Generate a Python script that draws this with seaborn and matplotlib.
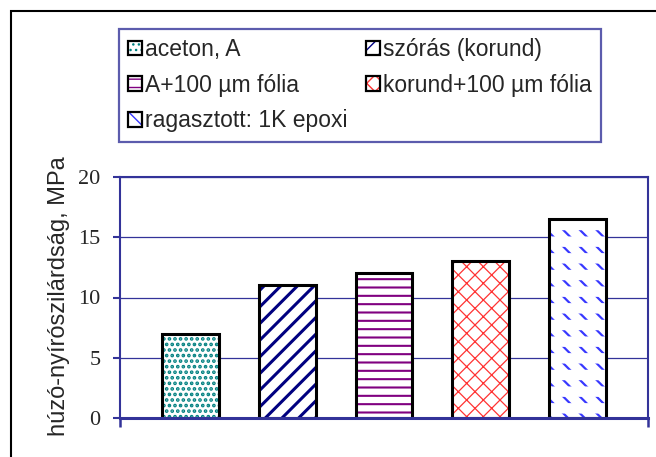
# plot.py
# Shear strength of bonded joints, grouped by surface treatment

import numpy as np
import pandas as pd
import seaborn as sns
import matplotlib
matplotlib.use("Agg")
from matplotlib import pyplot as plt
from matplotlib import patches as mpatches


# data
treatments = ['aceton, A', 'szórás (korund)', 'A+100 µm fólia',
              'korund+100 µm fólia', 'ragasztott: 1K epoxi']
strength   = [7, 11, 12, 13, 16.5]
yticks     = [0, 5, 10, 15, 20]
ylabel     = 'húzó-nyírószilárdság, MPa'

# fill styles, one per treatment
hatches    = ['...', '//', '--', 'xx', '\\\\']
hatch_cols = ['#008080', '#000080', '#800080', '#ff3333', '#3838ff']
hatch_lws  = [1.8, 2.2, 1.5, 0.9, 1.6]

axis_col = '#333399'


def set_hatch_lw(patch, lw):
    if hasattr(patch, 'set_hatch_linewidth'):
        patch.set_hatch_linewidth(lw)


df = pd.DataFrame({'treatment': treatments, 'strength': strength})

sns.set_theme(style='white')
plt.rcParams['font.family'] = ['Liberation Sans', 'DejaVu Sans']

fig = plt.figure(figsize=(6.56, 4.57), dpi=100)
ax = fig.add_axes([120/656, 1-418/457, 528/656, 241/457])

bar_w = 0.59

# hatch layer
sns.barplot(data=df, x='treatment', y='strength', color='white',
            width=bar_w, linewidth=0, ax=ax, zorder=2)
hatch_bars = list(ax.patches)
for p, h, c, lw in zip(hatch_bars, hatches, hatch_cols, hatch_lws):
    p.set_hatch(h)
    p.set_edgecolor(c)
    p.set_linewidth(0)
    set_hatch_lw(p, lw)

# white breaks turn the epoxi lines into short dashes
n_before = len(ax.patches)
sns.barplot(data=df, x='treatment', y='strength', fill=False, color='white',
            width=bar_w, linewidth=0, ax=ax, zorder=2.5)
for i, p in enumerate(ax.patches[n_before:]):
    if i == 4:
        p.set_hatch('-')
        p.set_edgecolor('white')
        set_hatch_lw(p, 7.5)
    else:
        p.set_visible(False)

# black outlines
sns.barplot(data=df, x='treatment', y='strength', fill=False, color='black',
            width=bar_w, linewidth=2.2, ax=ax, zorder=3)

# axes styling
lo, hi = -0.733, 4.733
ax.set_xlim(lo, hi)
ax.set_ylim(0, 20)
ax.set_xticks([lo, hi], ['', ''])
ax.set_yticks(yticks)
ax.set_xlabel('')
ax.set_ylabel(ylabel, fontsize=17)
ax.yaxis.set_label_coords(-0.095, 0.505)

for side in ['left', 'top', 'right']:
    ax.spines[side].set_color(axis_col)
    ax.spines[side].set_linewidth(1.5)
ax.spines['bottom'].set_color(axis_col)
ax.spines['bottom'].set_linewidth(2.2)
ax.spines['bottom'].set_zorder(4)

ax.yaxis.grid(True, color=axis_col, linewidth=0.9)
ax.set_axisbelow(True)
ax.tick_params(axis='y', direction='out', length=5, width=1.5,
               color=axis_col, pad=9, labelsize=16, left=True)
ax.tick_params(axis='x', direction='out', length=6.5, width=1.8,
               color=axis_col, bottom=True)
for t in ax.get_yticklabels():
    t.set_fontfamily(['Liberation Serif', 'DejaVu Serif'])

# legend with colored hatch and black border on each key
handles = []
for h, c, lw in zip(hatches, hatch_cols, hatch_lws):
    fillp = mpatches.Patch(facecolor='white', edgecolor=c, hatch=h, linewidth=0)
    set_hatch_lw(fillp, min(lw, 1.5))
    edge = mpatches.Patch(facecolor='none', edgecolor='black', linewidth=1.6)
    handles.append((fillp, edge))
order = [0, 2, 4, 1, 3]
leg = fig.legend([handles[i] for i in order], [treatments[i] for i in order],
                 ncol=2, loc='upper left',
                 bbox_to_anchor=(119/656, 1-29/457), borderaxespad=0,
                 frameon=True, fancybox=False, edgecolor=axis_col,
                 fontsize=16.5, handlelength=0.6, handleheight=0.6,
                 handletextpad=0.15, columnspacing=0.8, labelspacing=0.55,
                 borderpad=0.4)
leg.get_frame().set_linewidth(1.6)

# outer frame around the whole chart
fig.patches.append(mpatches.Rectangle((10.5/656, -0.5), 2, 1.5 - 10.5/457,
                                      transform=fig.transFigure, fill=False,
                                      edgecolor='black', linewidth=1.5))

plt.savefig('out.png', dpi=100)
plt.close()
